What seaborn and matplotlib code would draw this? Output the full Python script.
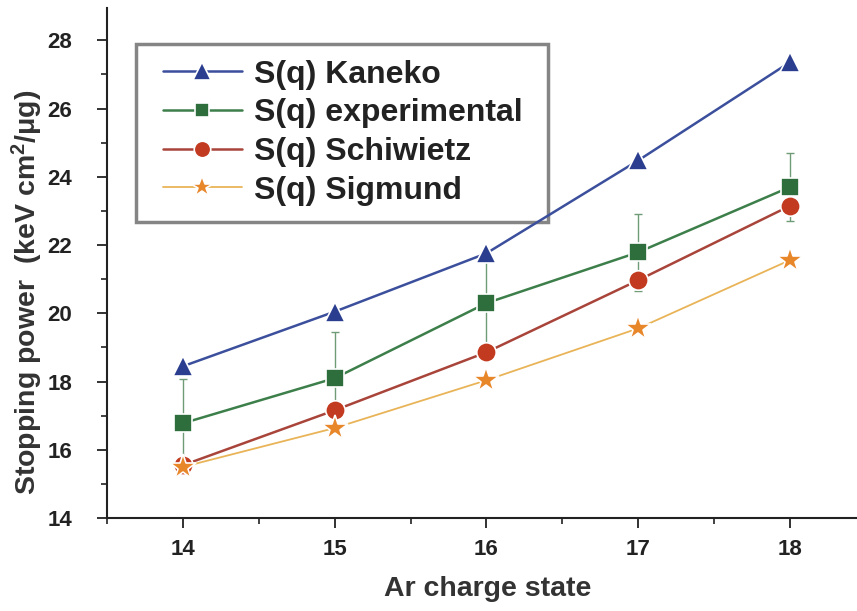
import matplotlib
matplotlib.use("Agg")
import matplotlib.pyplot as plt
import seaborn as sns
import numpy as np
from matplotlib.ticker import MultipleLocator
from matplotlib.patches import Rectangle

charge = [14, 15, 16, 17, 18]
kaneko = [18.45, 20.05, 21.76, 24.48, 27.36]
experimental = [16.78, 18.10, 20.30, 21.79, 23.70]
exp_err = [1.3, 1.35, 1.25, 1.13, 1.0]
schiwietz = [15.55, 17.16, 18.86, 20.97, 23.15]
sigmund = [15.50, 16.64, 18.04, 19.56, 21.56]

sns.set_theme(style="white")
plt.rcParams['font.family'] = ['Liberation Sans', 'DejaVu Sans']
plt.rcParams['mathtext.fontset'] = 'custom'
plt.rcParams['mathtext.rm'] = 'Liberation Sans:bold'
plt.rcParams['mathtext.bf'] = 'Liberation Sans:bold'
plt.rcParams['mathtext.it'] = 'Liberation Sans:bold'
plt.rcParams['mathtext.default'] = 'bf'

fig = plt.figure(figsize=(8.57, 6.11), dpi=100)
ax = fig.add_axes([0.1249, 0.152, 0.88, 0.835])

series = [
    ("S(q) Kaneko", kaneko, "#3b4f9c", "#2b3d8e", "^", 15, 1.8),
    ("S(q) experimental", experimental, "#3d7f4a", "#2d6e3c", "s", 12.5, 1.8),
    ("S(q) Schiwietz", schiwietz, "#a8443a", "#c23a1f", "o", 14, 1.8),
    ("S(q) Sigmund", sigmund, "#e9b458", "#e8862a", "*", 19, 1.3),
]

ax.errorbar(charge, experimental, yerr=exp_err, fmt="none", ecolor="#6f9c76",
            elinewidth=1.0, capsize=3, capthick=1.0, zorder=1)

for label, vals, lc, mc, mk, ms, lw in series:
    sns.lineplot(x=charge, y=vals, ax=ax, color=lc, linewidth=lw, marker=mk,
                 markersize=ms, markerfacecolor=mc, markeredgecolor="white",
                 markeredgewidth=1.2, label=label, zorder=3)

ax.set_xlim(13.5, 18.47)
ax.set_ylim(14, 28.95)
ax.xaxis.set_major_locator(MultipleLocator(1))
ax.xaxis.set_minor_locator(MultipleLocator(0.5))
ax.yaxis.set_major_locator(MultipleLocator(2))
ax.yaxis.set_minor_locator(MultipleLocator(1))
ax.tick_params(axis="both", which="major", direction="out", length=7, width=1.3,
               labelsize=16, colors="#222222", bottom=True, left=True)
ax.tick_params(axis="x", which="major", pad=8)
ax.tick_params(axis="y", which="major", pad=18)
ax.tick_params(axis="both", which="minor", direction="out", length=4, width=1.2,
               bottom=True, left=True, colors="#222222")
for lab in ax.get_xticklabels() + ax.get_yticklabels():
    lab.set_fontweight("bold")

for s in ["top", "right"]:
    ax.spines[s].set_visible(False)
for s in ["left", "bottom"]:
    ax.spines[s].set_color("#222222")
    ax.spines[s].set_linewidth(1.5)

ax.set_xlabel("Ar charge state", fontsize=20.5, fontweight="bold", color="#333333")
ax.xaxis.set_label_coords(0.505, -0.113)
ax.set_ylabel("Stopping power  (keV cm$^{2}$/μg)", fontsize=20.5,
              fontweight="bold", color="#333333")
ax.yaxis.set_label_coords(-0.082, 0.442)

# legend frame box (drawn beneath the data lines)
frame = Rectangle((0.0385, 0.580), 0.5464, 0.349, transform=ax.transAxes,
                  facecolor="white", edgecolor="#858585", linewidth=2.5, zorder=2)
ax.add_patch(frame)

leg = ax.legend(loc="upper left", bbox_to_anchor=(0.0535, 0.930), fontsize=23,
                frameon=False, handlelength=2.45,
                borderpad=0.5, labelspacing=0.27, handletextpad=0.4, borderaxespad=0,
                markerscale=0.85)
leg.set_zorder(5)
for t in leg.get_texts():
    t.set_fontweight("bold")
    t.set_color("#222222")

fig.savefig("out.png", dpi=100)
